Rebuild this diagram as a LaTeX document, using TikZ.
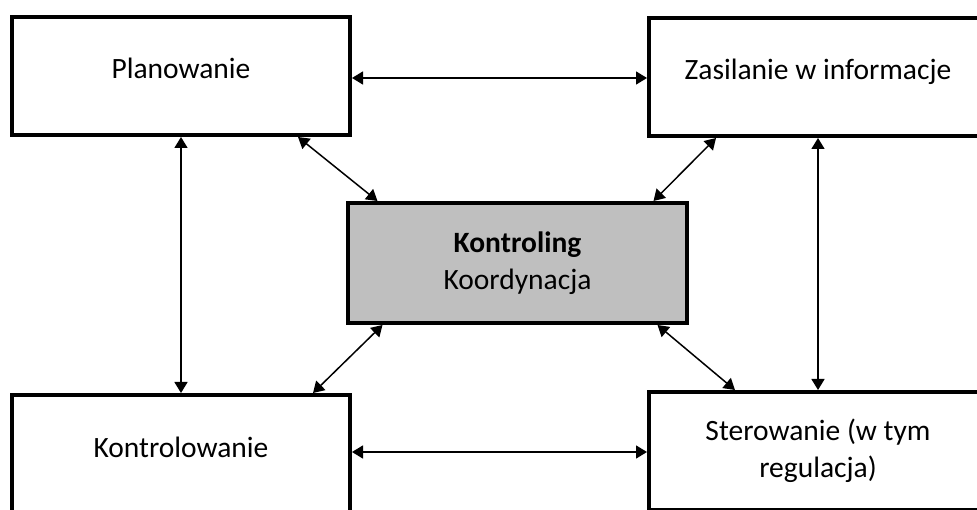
\documentclass[tikz,border=0pt]{standalone}
\usepackage{fontspec}
\setmainfont{Carlito}
\usetikzlibrary{arrows.meta}

\begin{document}
\begin{tikzpicture}[x=1pt,y=-1pt,
  every node/.style={font=\fontsize{29.5}{37}\selectfont},
  box/.style={draw,line width=4pt,minimum width=338pt,minimum height=118pt,align=center},
  oneline/.style={text height=20pt,text depth=14pt},
  link/.style={line width=1.5pt,{Triangle[length=11pt,width=13pt]}-{Triangle[length=11pt,width=13pt]}}
]
  \clip (0,0) rectangle (977,510);
  \node[box,oneline] (plan) at (181,76) {Planowanie};
  \node[box,oneline] (info) at (818,77) {Zasilanie w informacje};
  \node[box,fill=black!25,minimum width=339pt,minimum height=120pt] (kontr) at (517.5,263) {\textbf{Kontroling}\\Koordynacja};
  \node[box,oneline] (kontrol) at (181,454) {Kontrolowanie};
  \node[box] (ster) at (818,451) {Sterowanie (w tym\\regulacja)};

  \draw[link] ([yshift=-2pt]plan.east) -- ([yshift=-1pt]info.west);
  \draw[link] (plan.south) -- (kontrol.north);
  \draw[link] (info.south) -- (ster.north);
  \draw[link] ([xshift=117pt]plan.south) -- ([xshift=-140pt]kontr.north);
  \draw[link] ([xshift=-102pt]info.south) -- ([xshift=136pt]kontr.north);
  \draw[link] ([xshift=-135pt]kontr.south) -- ([xshift=132pt]kontrol.north);
  \draw[link] ([xshift=140pt]kontr.south) -- ([xshift=-83pt]ster.north);
  \draw[link] ([yshift=2pt]kontrol.east) -- ([yshift=-1pt]ster.west);
\end{tikzpicture}
\end{document}
